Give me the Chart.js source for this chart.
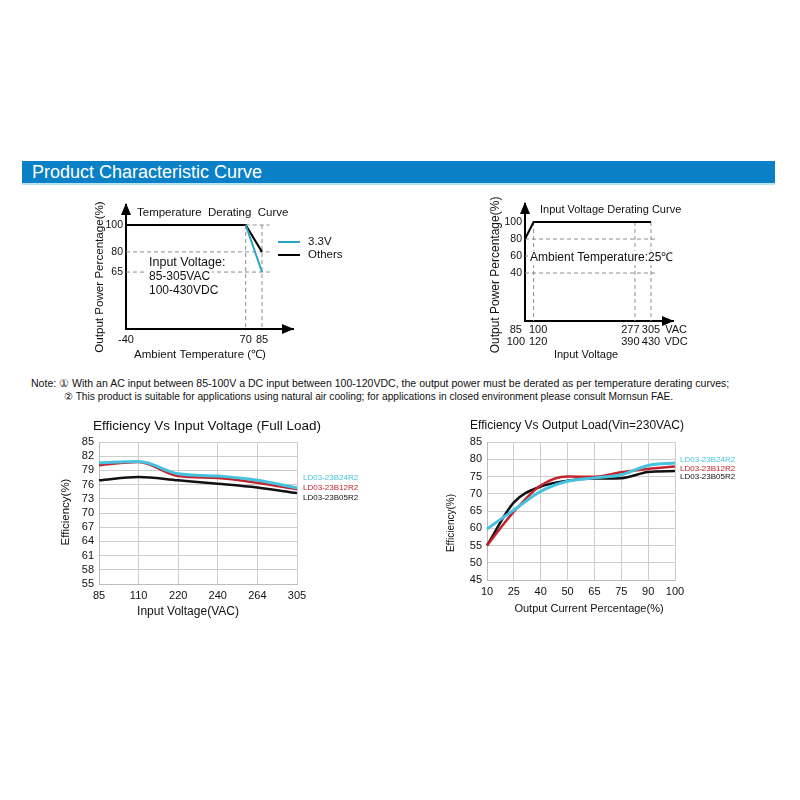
<!DOCTYPE html>
<html>
<head>
<meta charset="utf-8">
<script src="https://cdn.jsdelivr.net/npm/chart.js@4.4.1/dist/chart.umd.min.js"></script>
<style>
  body { margin: 0; background: #fff; }
  #page { position: relative; width: 800px; height: 800px; overflow: hidden; font-family: "Liberation Sans", Arial, sans-serif; }
  #header { position: absolute; left: 22px; top: 161px; width: 753px; height: 24px; box-sizing: border-box;
    background: #0a80c6; color: #fff; font-size: 18px; line-height: 22px; padding-left: 10px; border-bottom: 2px solid #b8e4f4; }
  #notes { position: absolute; left: 31px; top: 377px; line-height: 13px; color: #111; white-space: nowrap; }
  #notes .l1 { font-size: 10.55px; }
  #notes .l2 { font-size: 10.2px; padding-left: 33px; }
  canvas { position: absolute; }
</style>
</head>
<body>
<div id="page">
  <div id="header">Product Characteristic Curve</div>
  <canvas id="tempChart" width="280" height="180" style="left:80px;top:190px;width:280px;height:180px"></canvas>
  <canvas id="inputChart" width="220" height="180" style="left:480px;top:190px;width:220px;height:180px"></canvas>
  <div id="notes">
    <div class="l1">Note: ① With an AC input between 85-100V a DC input between 100-120VDC, the output power must be derated as per temperature derating curves;</div>
    <div class="l2">② This product is suitable for applications using natural air cooling; for applications in closed environment please consult Mornsun FAE.</div>
  </div>
  <canvas id="vinChart" width="330" height="215" style="left:40px;top:410px;width:330px;height:215px"></canvas>
  <canvas id="loadChart" width="370" height="215" style="left:420px;top:410px;width:370px;height:215px"></canvas>
</div>
<script>
// temperature derating curve
const tempX = [-40, 70, 85]
const othersPct = [100, 100, 80]
const v33X = [70, 85]
const v33Pct = [100, 65]
const tempTicks = [-40, 70, 85]
const tempPctTicks = [100, 80, 65]
const tempGuideEnd = 92

// input voltage derating curve
const inputX = [85, 100, 305]
const inputPct = [80, 100, 100]
const vacTicks = [85, 100, 277, 305]
const vdcTicks = [100, 120, 390, 430]
const inputPctTicks = [100, 80, 60, 40]
const inputGuideEnd = 315

// efficiency vs input voltage (full load)
const vinLabels = ['85', '110', '220', '240', '264', '305']
const vin24 = [80.6, 80.9, 78.3, 77.8, 76.9, 75.3]
const vin12 = [80.1, 80.8, 77.8, 77.4, 76.4, 75.0]
const vin05 = [76.9, 77.6, 76.9, 76.2, 75.4, 74.2]

// efficiency vs output load (Vin=230VAC)
const loadLabels = ['10', '25', '40', '50', '65', '75', '90', '100']
const load24 = [59.8, 65.3, 70.7, 73.6, 74.6, 75.5, 78.2, 78.9]
const load12 = [55.0, 64.8, 72.4, 75.0, 74.9, 76.2, 77.2, 77.9]
const load05 = [55.0, 67.5, 72.1, 73.8, 74.4, 74.5, 76.3, 76.6]

const models = ['LD03-23B24R2', 'LD03-23B12R2', 'LD03-23B05R2']

const FONT = '"Liberation Sans", Arial, sans-serif'
const CYAN = '#47c2de'
const RED = '#c4222c'
const BLACK = '#111'

Chart.defaults.font.family = FONT
Chart.defaults.color = '#111'

// free text + legend samples, given in page coordinates
const texts = {
    id: 'texts',
    afterDraw(chart, args, opts) {
        const ctx = chart.ctx
        const ox = chart.canvas.offsetLeft
        const oy = chart.canvas.offsetTop
        for (const t of opts.items || []) {
            ctx.save()
            if (t.line) {
                ctx.strokeStyle = t.color
                ctx.lineWidth = 2
                ctx.beginPath()
                ctx.moveTo(t.line[0] - ox, t.y - oy)
                ctx.lineTo(t.line[1] - ox, t.y - oy)
                ctx.stroke()
                ctx.restore()
                continue
            }
            ctx.font = t.size + 'px ' + FONT
            ctx.textAlign = t.align || 'left'
            ctx.textBaseline = 'middle'
            ctx.translate(t.x - ox, t.y - oy)
            if (t.rotate) ctx.rotate(t.rotate)
            if (t.bg) {
                const w = ctx.measureText(t.text).width
                ctx.fillStyle = '#fff'
                ctx.fillRect(-2, -t.size * 0.6, w + 4, t.size * 1.2)
            }
            ctx.fillStyle = t.color || '#111'
            ctx.fillText(t.text, 0, 0)
            ctx.restore()
        }
    }
}

const arrows = {
    id: 'arrows',
    afterDraw(chart) {
        const {ctx, chartArea: a} = chart
        ctx.save()
        ctx.fillStyle = '#000'
        ctx.beginPath()
        ctx.moveTo(a.left, a.top - 2)
        ctx.lineTo(a.left - 5, a.top + 10)
        ctx.lineTo(a.left + 5, a.top + 10)
        ctx.fill()
        ctx.beginPath()
        ctx.moveTo(a.right + 1, a.bottom)
        ctx.lineTo(a.right - 11, a.bottom - 5)
        ctx.lineTo(a.right - 11, a.bottom + 5)
        ctx.fill()
        ctx.restore()
    }
}

const pts = (xs, ys) => xs.map((x, i) => ({x, y: ys[i]}))
const guide = (data) => ({data, borderColor: '#8c8c8c', borderWidth: 1, borderDash: [4, 3], pointRadius: 0})

function schematicScales(xMin, xMax, yMin, yMax, xTicks, yTicks, xh, yw) {
    const axisBorder = {display: true, color: '#000', width: 2}
    return {
        x: {
            type: 'linear', min: xMin, max: xMax,
            grid: {display: false, drawTicks: false}, border: axisBorder,
            afterBuildTicks: s => { s.ticks = xTicks.map(v => ({value: v})) },
            afterFit: s => { s.height = xh },
            ticks: {font: {size: 11}, padding: 4, maxRotation: 0, autoSkip: false}
        },
        y: {
            type: 'linear', min: yMin, max: yMax,
            grid: {display: false, drawTicks: false}, border: axisBorder,
            afterBuildTicks: s => { s.ticks = yTicks.map(v => ({value: v})) },
            afterFit: s => { s.width = yw },
            ticks: {font: {size: 10.5}, padding: 3, autoSkip: false}
        }
    }
}

function getTempChart() {
    const lo = 22.6
    const datasets = [
        {data: pts(v33X, v33Pct), borderColor: '#2aa3c8', borderWidth: 2, pointRadius: 0},
        {data: pts(tempX, othersPct), borderColor: '#000', borderWidth: 2, pointRadius: 0},
        guide([{x: 70, y: 100}, {x: tempGuideEnd, y: 100}]),
        guide([{x: -40, y: 80}, {x: tempGuideEnd, y: 80}]),
        guide([{x: -40, y: 65}, {x: tempGuideEnd, y: 65}]),
        guide([{x: 70, y: 100}, {x: 70, y: lo}]),
        guide([{x: 85, y: 100}, {x: 85, y: lo}])
    ]
    const scales = schematicScales(-40, 113.5, lo, 114.9, tempTicks, tempPctTicks, 41, 36)
    return new Chart(document.getElementById('tempChart'), {
        type: 'line',
        data: {datasets},
        options: {
            responsive: false, animation: false,
            layout: {padding: {left: 10, top: 15, right: 67, bottom: 0}},
            scales,
            plugins: {
                legend: {display: false}, tooltip: {enabled: false},
                texts: {items: [
                    {text: 'Temperature  Derating  Curve', x: 137, y: 213, size: 11.5},
                    {text: 'Input Voltage:', x: 149, y: 263, size: 12.5, bg: true},
                    {text: '85-305VAC', x: 149, y: 277, size: 12, bg: true},
                    {text: '100-430VDC', x: 149, y: 291, size: 12, bg: true},
                    {line: [278, 300], y: 242, color: '#2aa3c8'},
                    {line: [278, 300], y: 255, color: '#000'},
                    {text: '3.3V', x: 308, y: 242, size: 11.5},
                    {text: 'Others', x: 308, y: 255, size: 11.5},
                    {text: 'Output Power Percentage(%)', x: 100, y: 277, size: 11.6, align: 'center', rotate: -Math.PI / 2},
                    {text: 'Ambient Temperature (℃)', x: 200, y: 355, size: 11.5, align: 'center'}
                ]}
            }
        },
        plugins: [arrows, texts]
    })
}

function getInputChart() {
    const lo = -16.4
    const datasets = [
        {data: pts(inputX, inputPct), borderColor: '#000', borderWidth: 2, pointRadius: 0},
        guide([{x: 85, y: 80}, {x: inputGuideEnd, y: 80}]),
        guide([{x: 85, y: 60}, {x: inputGuideEnd, y: 60}]),
        guide([{x: 85, y: 40}, {x: inputGuideEnd, y: 40}]),
        guide([{x: 100, y: 100}, {x: 100, y: lo}]),
        guide([{x: 277, y: 100}, {x: 277, y: lo}]),
        guide([{x: 305, y: 100}, {x: 305, y: lo}])
    ]
    const xMax = 343.4
    // the scale is schematic: nudge crowded labels apart like the printed figure
    const nudge = ['      ', '', '   ', '']
    const lead = ['', '   ', '', '']
    const scales = schematicScales(85, xMax, lo, 121.2, [...vacTicks, xMax], inputPctTicks, 49, 35)
    scales.x.ticks.padding = 3
    scales.x.ticks.font = {size: 11, lineHeight: 1.1}
    scales.x.ticks.callback = (v, i) => i < vacTicks.length
        ? [lead[i] + vacTicks[i] + nudge[i], lead[i] + vdcTicks[i] + nudge[i]]
        : ['  VAC', '  VDC']
    return new Chart(document.getElementById('inputChart'), {
        type: 'line',
        data: {datasets},
        options: {
            responsive: false, animation: false,
            layout: {padding: {left: 10, top: 14, right: 27, bottom: 0}},
            scales,
            plugins: {
                legend: {display: false}, tooltip: {enabled: false},
                texts: {items: [
                    {text: 'Input Voltage Derating Curve', x: 540, y: 210, size: 11},
                    {text: 'Ambient Temperature:25℃', x: 530, y: 258, size: 12, bg: true},
                    {text: 'Output Power Percentage(%)', x: 496, y: 275, size: 12, align: 'center', rotate: -Math.PI / 2},
                    {text: 'Input Voltage', x: 586, y: 355, size: 11, align: 'center'}
                ]}
            }
        },
        plugins: [arrows, texts]
    })
}

function effDatasets(s24, s12, s05) {
    const base = {pointRadius: 0, cubicInterpolationMode: 'monotone', fill: false}
    return [
        {...base, label: models[0], data: s24, borderColor: CYAN, borderWidth: 3},
        {...base, label: models[1], data: s12, borderColor: RED, borderWidth: 2.5},
        {...base, label: models[2], data: s05, borderColor: BLACK, borderWidth: 2.5}
    ]
}

function effScales(min, max, step, xh, yw) {
    return {
        x: {
            grid: {color: '#cdcdcd', drawTicks: false}, border: {color: '#bdbdbd'},
            afterFit: s => { s.height = xh },
            ticks: {font: {size: 11}, padding: 5, maxRotation: 0, autoSkip: false}
        },
        y: {
            min, max,
            grid: {color: '#cdcdcd', drawTicks: false}, border: {color: '#bdbdbd'},
            afterFit: s => { s.width = yw },
            ticks: {font: {size: 11}, padding: 5, stepSize: step, autoSkip: false}
        }
    }
}

function getVinChart() {
    return new Chart(document.getElementById('vinChart'), {
        type: 'line',
        data: {labels: vinLabels, datasets: effDatasets(vin24, vin12, vin05)},
        options: {
            responsive: false, animation: false,
            layout: {padding: {left: 10, top: 32, right: 73, bottom: 0}},
            scales: effScales(55, 85, 3, 41, 49),
            plugins: {
                legend: {display: false}, tooltip: {enabled: false},
                texts: {items: [
                    {text: 'Efficiency Vs Input Voltage (Full Load)', x: 207, y: 426, size: 13.5, align: 'center'},
                    {text: 'Efficiency(%)', x: 66, y: 512, size: 11.5, align: 'center', rotate: -Math.PI / 2},
                    {text: 'Input Voltage(VAC)', x: 188, y: 612, size: 12, align: 'center'},
                    {text: models[0], x: 303, y: 478, size: 8, color: CYAN},
                    {text: models[1], x: 303, y: 488, size: 8, color: RED},
                    {text: models[2], x: 303, y: 498, size: 8, color: BLACK}
                ]}
            }
        },
        plugins: [texts]
    })
}

function getLoadChart() {
    return new Chart(document.getElementById('loadChart'), {
        type: 'line',
        data: {labels: loadLabels, datasets: effDatasets(load24, load12, load05)},
        options: {
            responsive: false, animation: false,
            layout: {padding: {left: 10, top: 32, right: 115, bottom: 0}},
            scales: effScales(45, 85, 5, 45, 57),
            plugins: {
                legend: {display: false}, tooltip: {enabled: false},
                texts: {items: [
                    {text: 'Efficiency Vs Output Load(Vin=230VAC)', x: 577, y: 426, size: 12, align: 'center'},
                    {text: 'Efficiency(%)', x: 451, y: 523, size: 10, align: 'center', rotate: -Math.PI / 2},
                    {text: 'Output Current Percentage(%)', x: 589, y: 609, size: 11, align: 'center'},
                    {text: models[0], x: 680, y: 460, size: 8, color: CYAN},
                    {text: models[1], x: 680, y: 469, size: 8, color: RED},
                    {text: models[2], x: 680, y: 477, size: 8, color: BLACK}
                ]}
            }
        },
        plugins: [texts]
    })
}

getTempChart()
getInputChart()
getVinChart()
getLoadChart()
</script>
</body>
</html>
